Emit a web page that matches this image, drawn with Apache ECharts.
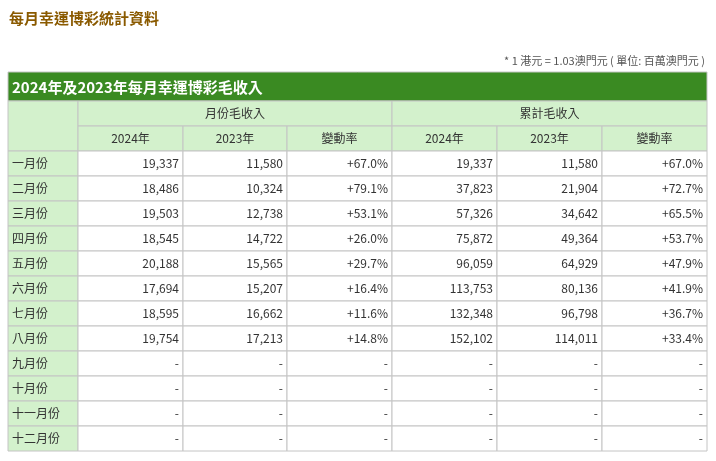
<!DOCTYPE html>
<html>
<head>
<meta charset="utf-8">
<script src="https://cdn.jsdelivr.net/npm/echarts@6/dist/echarts.min.js"></script>
<style>html,body{margin:0;padding:0;background:#fff}#main{width:716px;height:461px}</style>
</head>
<body>
<div id="main"></div>
<script>
var months = ['一月份','二月份','三月份','四月份','五月份','六月份','七月份','八月份','九月份','十月份','十一月份','十二月份'];
var month2024 = ['19,337','18,486','19,503','18,545','20,188','17,694','18,595','19,754','-','-','-','-'];
var month2023 = ['11,580','10,324','12,738','14,722','15,565','15,207','16,662','17,213','-','-','-','-'];
var monthRate = ['+67.0%','+79.1%','+53.1%','+26.0%','+29.7%','+16.4%','+11.6%','+14.8%','-','-','-','-'];
var cum2024 = ['19,337','37,823','57,326','75,872','96,059','113,753','132,348','152,102','-','-','-','-'];
var cum2023 = ['11,580','21,904','34,642','49,364','64,929','80,136','96,798','114,011','-','-','-','-'];
var cumRate = ['+67.0%','+72.7%','+65.5%','+53.7%','+47.9%','+41.9%','+36.7%','+33.4%','-','-','-','-'];
var subHeaders = ['2024年','2023年','變動率','2024年','2023年','變動率'];

var chartDom = document.getElementById('main');
var myChart = echarts.init(chartDom);
var font = '"Noto Sans CJK TC", "Noto Sans", sans-serif';
var colX = [8, 78, 183, 287, 392, 497, 602, 707];
var headTop = 101, rowH = 25, dataTop = 151;
var green = '#d3f1cc', border = '#c4c4c4';
var els = [];

function cell(x0, x1, y, h, fill) {
    els.push({type: 'rect', shape: {x: x0, y: y, width: x1 - x0, height: h},
        style: {fill: fill, stroke: border, lineWidth: 1}});
}
function txt(s, x, y, align, color) {
    els.push({type: 'text', x: x, y: y, style: {text: s, font: '12px ' + font,
        fill: color || '#333', align: align, verticalAlign: 'middle'}});
}

// title & note
els.push({type: 'text', x: 9, y: 18, style: {text: '每月幸運博彩統計資料', font: 'bold 15px ' + font, fill: '#8a5a00', verticalAlign: 'middle'}});
els.push({type: 'text', x: 705, y: 61, style: {text: '* 1 港元 = 1.03澳門元 ( 單位: 百萬澳門元 )', font: '11px ' + font, fill: '#555', align: 'right', verticalAlign: 'middle'}});
// banner
els.push({type: 'rect', shape: {x: 8, y: 72, width: 699, height: 29}, style: {fill: '#3a8a22', stroke: border}});
els.push({type: 'text', x: 12, y: 87, style: {text: '2024年及2023年每月幸運博彩毛收入', font: 'bold 15px ' + font, fill: '#fff', verticalAlign: 'middle'}});

// header
cell(colX[0], colX[1], headTop, 50, green);
cell(colX[1], colX[4], headTop, rowH, green);
cell(colX[4], colX[7], headTop, rowH, green);
txt('月份毛收入', (colX[1] + colX[4]) / 2, headTop + 12.5, 'center');
txt('累計毛收入', (colX[4] + colX[7]) / 2, headTop + 12.5, 'center');
subHeaders.forEach(function (h, i) {
    cell(colX[i + 1], colX[i + 2], headTop + rowH, rowH, green);
    txt(h, (colX[i + 1] + colX[i + 2]) / 2, headTop + rowH + 12.5, 'center');
});

// body
var cols = [month2024, month2023, monthRate, cum2024, cum2023, cumRate];
months.forEach(function (m, r) {
    var y = dataTop + r * rowH;
    cell(colX[0], colX[1], y, rowH, green);
    txt(m, colX[0] + 4, y + 12.5, 'left');
    cols.forEach(function (c, i) {
        cell(colX[i + 1], colX[i + 2], y, rowH, '#fff');
        txt(c[r], colX[i + 2] - 4, y + 12.5, 'right');
    });
});

var option = {animation: false, graphic: {elements: els}};
option && myChart.setOption(option);
</script>
</body>
</html>
